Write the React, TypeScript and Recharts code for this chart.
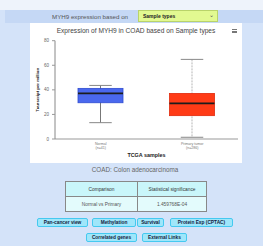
import { ComposedChart, Bar, XAxis, YAxis } from 'recharts';

// MYH9 expression in COAD (TCGA) – box plot summary per sample type
const categories = ['Normal', 'Primary tumor'];
const sampleCounts = [41, 286];
const minValues = [13.3, 1.4];
const q1Values = [29.5, 19];
const medianValues = [37.1, 29];
const q3Values = [41.2, 37.1];
const maxValues = [43.6, 64.8];
const yTicks = [0, 20, 40, 60, 80];

const boxColors = ['#4a68ee', '#ff3b16'];
const boxBorders = ['#2f4bd0', '#e02a0c'];

const comparisonRows = [['Normal vs Primary', '1.459768E-04']];
const linkRows = [
  ['Pan-cancer view', 'Methylation', 'Survival', 'Protein Exp (CPTAC)'],
  ['Correlated genes', 'External Links'],
];

const boxData = categories.map((name, i) => ({
  name,
  n: sampleCounts[i],
  min: minValues[i],
  q1: q1Values[i],
  median: medianValues[i],
  q3: q3Values[i],
  max: maxValues[i],
}));

const font = '"Liberation Sans", Arial, sans-serif';

function BoxShape(props: any) {
  const { x, y, width, height, payload, index } = props;
  const top = Math.min(y, y + height);
  const span = Math.abs(height);
  const toY = (v: number) => top + ((payload.max - v) / (payload.max - payload.min)) * span;
  const cx = x + width / 2;
  const cap = width / 4;
  const dashed = index === 1;
  return (
    <g>
      <line x1={cx} x2={cx} y1={toY(payload.max)} y2={toY(payload.min)}
        stroke={dashed ? '#b5b5b5' : '#777'} strokeWidth={1} strokeDasharray={dashed ? '2 1' : undefined} />
      <line x1={cx - cap} x2={cx + cap} y1={toY(payload.max)} y2={toY(payload.max)} stroke="#888" strokeWidth={1} />
      <line x1={cx - cap} x2={cx + cap} y1={toY(payload.min)} y2={toY(payload.min)} stroke="#888" strokeWidth={1} />
      <rect x={x} y={toY(payload.q3)} width={width} height={toY(payload.q1) - toY(payload.q3)}
        fill={boxColors[index]} stroke={boxBorders[index]} strokeWidth={0.8} />
      <line x1={x} x2={x + width} y1={toY(payload.median)} y2={toY(payload.median)} stroke="#1c1c1c" strokeWidth={1.6} />
    </g>
  );
}

function SampleTick({ x, y, payload, index }: any) {
  return (
    <text x={x} y={y} textAnchor="middle" fill="#777" fontSize={3.6} fontFamily={font}>
      <tspan x={x} dy={5.5}>{payload.value}</tspan>
      <tspan x={x} dy={4}>(n={sampleCounts[index]})</tspan>
    </text>
  );
}

const btn: React.CSSProperties = {
  position: 'absolute',
  height: 9,
  background: '#9fe6fa',
  border: '1px solid #45c9f0',
  borderRadius: 2,
  boxSizing: 'border-box',
  fontSize: 4.8,
  fontWeight: 'bold',
  color: '#141c40',
  lineHeight: '7px',
  textAlign: 'center',
  whiteSpace: 'nowrap',
};

const buttonBoxes = [
  [[37, 51], [92, 44], [137, 27], [170, 63]],
  [[86, 51], [142, 45]],
];
const buttonTops = [218, 233];

export default function App() {
  return (
    <div style={{ position: 'absolute', left: 0, top: 0, width: 263, height: 246, background: '#d4e3f9', fontFamily: font, overflow: 'hidden' }}>
      <div style={{ position: 'absolute', left: 0, top: 0, width: 263, height: 10, background: '#eef3fb' }} />
      <div style={{ position: 'absolute', left: 5, top: 10, width: 258, height: 13, background: '#c5d8f5' }} />
      <div style={{ position: 'absolute', left: 52, top: 12.5, fontSize: 6.2, color: '#555', whiteSpace: 'nowrap' }}>
        MYH9 expression based on
      </div>
      <div style={{ position: 'absolute', left: 138, top: 9.5, width: 80, height: 12, boxSizing: 'border-box', background: '#e2f991', border: '1px solid #b9d36a' }}>
        <span style={{ position: 'absolute', left: 4, top: 2.5, fontSize: 5, fontWeight: 'bold', color: '#222' }}>Sample types</span>
        <span style={{ position: 'absolute', right: 3, top: 1.5, fontSize: 5.5, color: '#555' }}>⌄</span>
      </div>

      <div style={{ position: 'absolute', left: 30, top: 23, width: 212, height: 140, background: '#fff' }}>
        <div style={{ position: 'absolute', left: 0, top: 3.5, width: 212, textAlign: 'center', fontSize: 6.6, color: '#444', whiteSpace: 'nowrap' }}>
          Expression of MYH9 in COAD based on Sample types
        </div>
        <div style={{ position: 'absolute', left: 202, top: 6, width: 6 }}>
          {[0, 1.6, 3.2].map((t) => (
            <div key={t} style={{ position: 'absolute', top: t, left: 0, width: 5, height: 0.9, background: '#777' }} />
          ))}
        </div>
        <ComposedChart width={212} height={140} data={boxData} margin={{ top: 17.7, right: 4, left: 0, bottom: 0 }}>
          <XAxis dataKey="name" interval={0} height={24} tickLine={false} tickSize={0} tickMargin={0}
            axisLine={{ stroke: '#999' }} tick={<SampleTick />}
            label={{
              content: (p: any) => (
                <text x={p.viewBox.x + p.viewBox.width / 2} y={p.viewBox.y + 17.7} textAnchor="middle"
                  fontSize={5.4} fontWeight="bold" fill="#222" fontFamily={font}>TCGA samples</text>
              ),
            }} />
          <YAxis domain={[0, 80]} ticks={yTicks} width={25} tickSize={3} tickMargin={3}
            axisLine={{ stroke: '#888' }} tickLine={{ stroke: '#999' }}
            tick={{ fontSize: 4.5, fill: '#666', fontFamily: font }}
            label={{
              content: (p: any) => {
                const cx = p.viewBox.x + 7.5;
                const cy = p.viewBox.y + p.viewBox.height / 2;
                return (
                  <text x={cx} y={cy} transform={`rotate(-90 ${cx} ${cy})`} textAnchor="middle" dominantBaseline="central"
                    fontSize={4.3} fontWeight="bold" fill="#222" fontFamily={font}>Transcript per million</text>
                );
              },
            }} />
          <Bar dataKey={(d: any) => [d.min, d.max]} barSize={45} shape={<BoxShape />} isAnimationActive={false} />
        </ComposedChart>
      </div>

      <div style={{ position: 'absolute', left: 0, top: 166, width: 270, textAlign: 'center', fontSize: 6.3, color: '#666', whiteSpace: 'nowrap' }}>
        COAD: Colon adenocarcinoma
      </div>

      <table style={{ position: 'absolute', left: 65, top: 181, width: 142, height: 30, borderCollapse: 'collapse', border: '1px solid #888', fontSize: 4.8 }}>
        <tbody>
          <tr style={{ background: '#c9f6fa', height: 15 }}>
            <td style={{ border: '1px solid #888', textAlign: 'center', color: '#333', padding: 0, width: 71 }}>Comparison</td>
            <td style={{ border: '1px solid #888', textAlign: 'center', color: '#333', padding: 0 }}>Statistical significance</td>
          </tr>
          {comparisonRows.map((r) => (
            <tr key={r[0]} style={{ background: '#e3fbfc', height: 15 }}>
              <td style={{ border: '1px solid #888', textAlign: 'center', color: '#555', padding: 0 }}>{r[0]}</td>
              <td style={{ border: '1px solid #888', textAlign: 'center', color: '#555', padding: 0 }}>{r[1]}</td>
            </tr>
          ))}
        </tbody>
      </table>

      {linkRows.map((row, ri) =>
        row.map((label, bi) => (
          <div key={label} style={{ ...btn, left: buttonBoxes[ri][bi][0], width: buttonBoxes[ri][bi][1], top: buttonTops[ri] }}>
            {label}
          </div>
        ))
      )}
    </div>
  );
}
